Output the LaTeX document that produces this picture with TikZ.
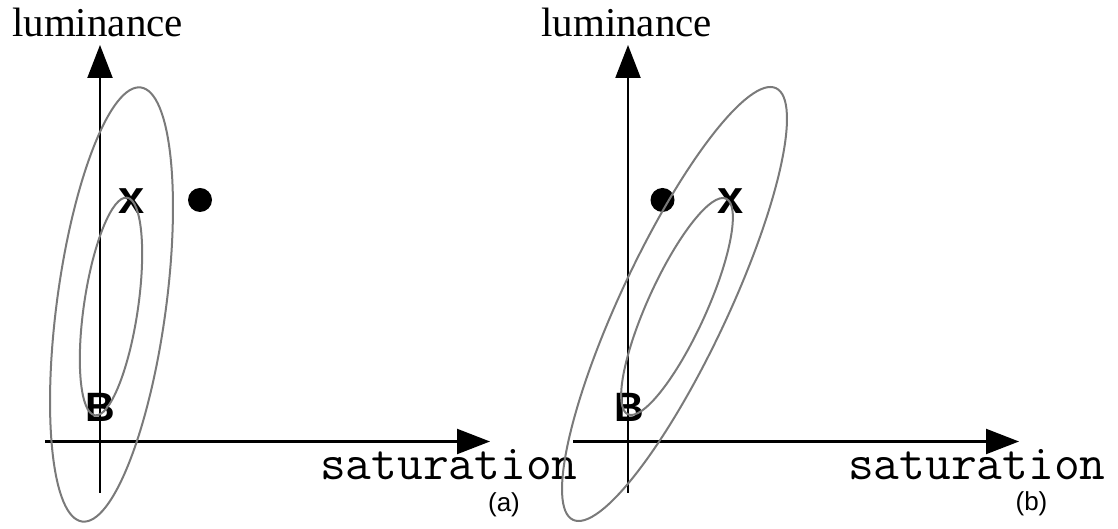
\documentclass[tikz,border=0pt]{standalone}
\usepackage{fontspec}
\setmainfont{Liberation Serif}
\newfontfamily\sansfont{Liberation Sans}
\usetikzlibrary{arrows.meta}
\tikzset{
  axis/.style={line width=2.2pt, -{Triangle[length=33pt,width=25pt]}},
  ell/.style={draw=black!52, line width=2pt},
  lumlabel/.style={anchor=base west, inner sep=0pt, font=\fontsize{41}{49}\selectfont},
  satlabel/.style={anchor=base west, inner sep=0pt, font=\ttfamily\fontsize{50}{58}\selectfont},
  sublabel/.style={inner sep=0pt, font=\sansfont\fontsize{26}{31}\selectfont},
  bmark/.style={inner sep=0pt, font=\sansfont\bfseries\fontsize{41}{48}\selectfont},
  xmark/.style={inner sep=0pt, font=\sansfont\bfseries\fontsize{47}{54}\selectfont},
  dotmark/.style={circle, fill=black, minimum size=24pt, inner sep=0pt},
}
\begin{document}
\begin{tikzpicture}[x=1pt,y=1pt]
\useasboundingbox (0,0) rectangle (1118,529);
% panel (a)
\coordinate (va0) at (100,36);
\coordinate (va1) at (100,484);
\coordinate (ha0) at (45,87.5);
\coordinate (ha1) at (490,87.5);
\draw[axis] (va0) -- (va1);
\draw[axis] (ha0) -- (ha1);
\node[lumlabel] (lumA) at (12,492) {luminance};
\node[satlabel] (satA) at (320,49) {saturation};
\node[sublabel] (labA) at (504,24) {(a)};
\node[bmark] (Ba) at (100,122) {B};
\node[xmark] (Xa) at (131.5,327.5) {x};
\node[dotmark] (Da) at (200,329) {};
\draw[ell, rotate around={-7.7:(111.5,224.5)}] (111.5,224.5) ellipse [x radius=54.5, y radius=219];
\draw[ell, rotate around={-8.4:(111,222.5)}] (111,222.5) ellipse [x radius=27, y radius=110];
% panel (b)
\coordinate (vb0) at (628,36);
\coordinate (vb1) at (628,484);
\coordinate (hb0) at (573,87.5);
\coordinate (hb1) at (1019,87.5);
\draw[axis] (vb0) -- (vb1);
\draw[axis] (hb0) -- (hb1);
\node[lumlabel] (lumB) at (541,492) {luminance};
\node[satlabel] (satB) at (848,49) {saturation};
\node[sublabel] (labB) at (1031.5,25) {(b)};
\node[bmark] (Bb) at (629.5,122) {B};
\node[xmark] (Xb) at (730.5,327.5) {x};
\node[dotmark] (Db) at (662.5,329) {};
\draw[ell, rotate around={-25.2:(674.5,225)}] (674.5,225) ellipse [x radius=53.4, y radius=238.5];
\draw[ell, rotate around={-24.5:(677,222.5)}] (677,222.5) ellipse [x radius=29.2, y radius=118.5];
\end{tikzpicture}
\end{document}
